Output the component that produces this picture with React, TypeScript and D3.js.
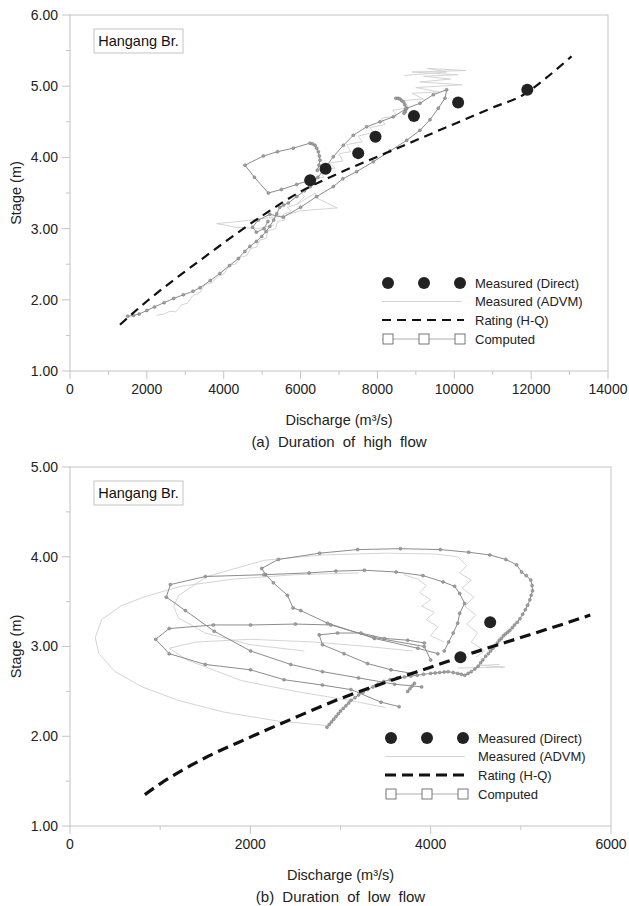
import * as d3 from "d3";

type Pt = [number, number];

// ---------- (a) high flow ----------
const highQTicks = [0, 2000, 4000, 6000, 8000, 10000, 12000, 14000];
const highStageTicks = [1, 2, 3, 4, 5, 6];

const directHigh: Pt[] = [
  [6250, 3.68], [6650, 3.84], [7500, 4.06], [7950, 4.29], [8950, 4.58], [10100, 4.77], [11900, 4.95],
];

const ratingHigh: Pt[] = [
  [1300, 1.65], [2000, 1.98], [3000, 2.4], [3500, 2.6], [4000, 2.8], [5000, 3.18], [6000, 3.52],
  [7000, 3.78], [8000, 4.01], [9000, 4.24], [10000, 4.47], [11000, 4.7], [11800, 4.88],
  [12400, 5.12], [13050, 5.42],
];

const computedHighA: Pt[] = [
  [1500, 1.77], [1650, 1.78], [1800, 1.8], [2000, 1.85], [2200, 1.9], [2450, 1.96], [2700, 2.02],
  [2950, 2.07], [3200, 2.12], [3383, 2.17], [3650, 2.27], [3900, 2.37], [4150, 2.48], [4380, 2.58],
  [4550, 2.68], [4680, 2.75], [4850, 2.82], [4990, 2.89], [5100, 2.96], [5200, 3.03], [5300, 3.12],
  [5380, 3.21], [5460, 3.3], [5560, 3.33], [5681, 3.36], [5900, 3.45], [6100, 3.53], [6245, 3.59],
  [6450, 3.72], [6636, 3.85], [6852, 4.01], [7113, 4.17], [7372, 4.31], [7720, 4.43], [8067, 4.5],
  [8413, 4.57], [8761, 4.69], [9107, 4.76], [9454, 4.88], [9802, 4.95], [9758, 4.83], [9584, 4.69],
  [9368, 4.53], [9107, 4.38], [8761, 4.24], [8327, 4.09], [7893, 3.94], [7460, 3.8], [7100, 3.7],
  [6852, 3.59], [6419, 3.45], [6000, 3.3], [5550, 3.16], [5200, 3.2], [4900, 3.12], [4750, 3.02],
  [4850, 2.95], [5050, 3.0], [5150, 3.1],
];

const computedHighB: Pt[] = [
  [6436, 3.82], [6480, 3.89], [6505, 3.96], [6490, 4.02], [6462, 4.08], [6420, 4.13], [6375, 4.17],
  [6310, 4.19], [6245, 4.2], [5811, 4.13], [5400, 4.08], [5031, 4.02], [4554, 3.89], [4800, 3.72],
  [5161, 3.5], [5500, 3.55], [5900, 3.62], [6245, 3.68],
];

const computedHighC: Pt[] = [
  [8480, 4.83], [8540, 4.83], [8587, 4.82], [8630, 4.8], [8674, 4.78], [8710, 4.74], [8743, 4.69],
  [8730, 4.66], [8720, 4.64], [8691, 4.62],
];

const advmHighA: Pt[] = [
  [2250, 1.78], [2450, 1.8], [2600, 1.84], [2750, 1.83], [2900, 1.93], [3050, 1.95], [3200, 2.06],
  [3383, 2.1], [3500, 2.21], [3700, 2.24], [3850, 2.33], [4000, 2.36], [4163, 2.49], [4300, 2.5],
  [4450, 2.6], [4600, 2.62], [4700, 2.72], [4850, 2.74], [4944, 2.84], [5100, 2.86], [5150, 2.97],
  [5350, 3.0], [5400, 3.1], [5595, 3.12], [5550, 3.2], [5750, 3.24], [5650, 3.3], [5900, 3.34],
];

const advmHighB: Pt[] = [
  [5900, 3.34], [6380, 3.5], [6420, 3.43], [6950, 3.29], [6000, 3.25], [5540, 3.18], [5000, 3.14],
  [4400, 3.1], [3817, 3.07], [4300, 3.02], [4900, 3.0], [5300, 3.05],
];

const advmHighC: Pt[] = [
  [5900, 3.34], [6100, 3.45], [6000, 3.52], [6300, 3.58], [6250, 3.7], [6600, 3.72], [6500, 3.82],
  [6900, 3.85], [6750, 3.92], [7100, 3.95], [7000, 4.05], [7300, 4.08], [7200, 4.18], [7600, 4.22],
  [7500, 4.3], [7900, 4.35], [7800, 4.42], [8200, 4.46], [8100, 4.55], [8500, 4.58], [8400, 4.66],
  [8800, 4.7], [8700, 4.8], [9200, 4.82], [8900, 4.9], [9600, 4.92], [9000, 4.98], [10200, 5.02],
  [9100, 5.06], [9900, 5.1], [9200, 5.14], [10100, 5.16], [8900, 5.2], [10300, 5.22], [9300, 5.25],
  [9800, 5.2], [8700, 5.15],
];

// ---------- (b) low flow ----------
const lowQTicks = [0, 2000, 4000, 6000];
const lowStageTicks = [1, 2, 3, 4, 5];

const directLow: Pt[] = [[4330, 2.88], [4660, 3.27]];

const ratingLow: Pt[] = [
  [830, 1.35], [1000, 1.47], [1500, 1.76], [2000, 1.99], [2500, 2.21], [3000, 2.42], [3500, 2.6],
  [4000, 2.77], [4500, 2.94], [5000, 3.1], [5500, 3.26], [5770, 3.35],
];

const computedLowA: Pt[] = [
  [2850, 2.1], [2875, 2.13], [2900, 2.16], [2925, 2.19], [2950, 2.22], [2975, 2.25], [3000, 2.28],
  [3030, 2.31], [3060, 2.34], [3090, 2.37], [3116, 2.4], [3160, 2.43], [3200, 2.46], [3250, 2.49],
  [3300, 2.52], [3360, 2.55], [3414, 2.58], [3480, 2.61], [3550, 2.63], [3630, 2.65], [3710, 2.66],
  [3780, 2.67], [3850, 2.68], [3920, 2.69], [4000, 2.7], [4050, 2.705], [4100, 2.71], [4150, 2.715],
  [4193, 2.72], [4250, 2.71], [4300, 2.7], [4340, 2.69], [4378, 2.68], [4415, 2.7], [4450, 2.72],
  [4490, 2.75], [4526, 2.78], [4555, 2.82], [4578, 2.85], [4610, 2.89], [4640, 2.92], [4665, 2.95],
  [4690, 2.98], [4715, 3.01], [4740, 3.04], [4762, 3.07], [4784, 3.09], [4807, 3.12], [4830, 3.14],
  [4855, 3.16], [4878, 3.18], [4905, 3.21], [4930, 3.24], [4960, 3.27], [4990, 3.31], [5020, 3.36],
  [5050, 3.41], [5075, 3.46], [5100, 3.52], [5115, 3.57], [5130, 3.62], [5125, 3.68], [5110, 3.74],
  [5060, 3.79], [5008, 3.83], [4953, 3.91], [4834, 3.97], [4656, 4.02], [4422, 4.05], [4107, 4.08],
  [3665, 4.09], [3191, 4.08], [2768, 4.04], [2311, 3.97], [2126, 3.87], [2170, 3.8], [2256, 3.71],
  [2411, 3.57], [2474, 3.43], [2560, 3.4], [2857, 3.26], [3377, 3.09], [3858, 2.98], [4080, 2.92],
];

const computedLowB: Pt[] = [
  [4150, 2.95], [4200, 3.05], [4250, 3.15], [4300, 3.26], [4322, 3.37], [4377, 3.48], [4322, 3.59],
  [4266, 3.67], [4137, 3.72], [3914, 3.79], [3617, 3.83], [3265, 3.85], [2949, 3.84], [2652, 3.82],
  [2151, 3.8], [1502, 3.78], [1113, 3.69], [1068, 3.55], [1280, 3.4], [1600, 3.17], [2003, 2.95],
  [2448, 2.8], [2800, 2.72], [3200, 2.65], [3600, 2.58], [3900, 2.55],
];

const computedLowC: Pt[] = [
  [4000, 2.85], [3928, 3.0], [3370, 3.1], [2893, 3.24], [2500, 3.25], [2003, 3.24], [1590, 3.24],
  [1100, 3.2], [950, 3.08], [1100, 2.92], [1500, 2.8], [2003, 2.74], [2374, 2.63], [2800, 2.57],
  [3116, 2.52], [3450, 2.38], [3650, 2.33],
];

const computedLowD: Pt[] = [
  [3930, 3.04], [3745, 3.07], [3486, 3.09], [3227, 3.15], [2967, 3.15], [2763, 3.13], [2800, 3.02],
  [3040, 2.92], [3300, 2.81], [3560, 2.74], [3800, 2.7],
];

const computedLowE: Pt[] = [
  [3745, 2.5], [3770, 2.53], [3795, 2.56], [3820, 2.59],
];

const advmLowA: Pt[] = [
  [2850, 2.12], [2300, 2.17], [1700, 2.27], [1200, 2.4], [800, 2.55], [500, 2.72], [320, 2.92],
  [280, 3.1], [352, 3.3], [560, 3.45], [816, 3.55], [1225, 3.67], [1800, 3.75], [2500, 3.8], [3200, 3.82],
];

const advmLowB: Pt[] = [
  [2600, 2.95], [2000, 3.02], [1500, 3.15], [1200, 3.32], [1150, 3.45], [1206, 3.57], [1521, 3.78],
  [2151, 3.96], [2800, 4.02], [3500, 4.04], [4050, 4.03], [4300, 4.0], [4400, 3.9], [4320, 3.82],
  [4450, 3.74], [4350, 3.65], [4480, 3.55], [4380, 3.45], [4500, 3.35], [4400, 3.25], [4520, 3.15],
  [4450, 3.05], [4600, 2.95], [4500, 2.88],
];

const advmLowC: Pt[] = [
  [3700, 3.8], [3860, 3.75], [3950, 3.68], [3880, 3.6], [4000, 3.52], [3900, 3.45], [4040, 3.38],
  [3950, 3.3], [4080, 3.22], [4000, 3.12], [4150, 3.05],
];

const advmLowD: Pt[] = [[4300, 2.76], [4822, 2.77], [4550, 2.79], [4760, 2.8]];

const advmLowE: Pt[] = [
  [3800, 2.95], [3300, 3.0], [2700, 3.05], [2000, 3.08], [1400, 3.05], [1100, 2.98], [1300, 2.85],
  [1900, 2.62], [2500, 2.5], [3100, 2.4], [3500, 2.32],
];

const legendLabels = ["Measured (Direct)", "Measured (ADVM)", "Rating (H-Q)", "Computed"];

const FONT = "'Liberation Sans', Arial, sans-serif";

type PanelProps = {
  top: number;
  bottom: number;
  left: number;
  right: number;
  qTicks: number[];
  qMinor: number;
  stageTicks: number[];
  direct: Pt[];
  rating: Pt[];
  ratingWidth: number;
  computed: Pt[][];
  advm: Pt[][];
  caption: string;
};

function Panel(p: PanelProps) {
  const x = d3.scaleLinear().domain([0, p.qTicks[p.qTicks.length - 1]]).range([p.left, p.right]);
  const y = d3
    .scaleLinear()
    .domain([p.stageTicks[0], p.stageTicks[p.stageTicks.length - 1]])
    .range([p.bottom, p.top]);
  const line = d3
    .line<Pt>()
    .x((d) => x(d[0]))
    .y((d) => y(d[1]));
  const smooth = d3
    .line<Pt>()
    .x((d) => x(d[0]))
    .y((d) => y(d[1]))
    .curve(d3.curveMonotoneX);

  const qMinorTicks = d3.range(p.qMinor, x.domain()[1], p.qMinor * 2);
  const sMinorTicks = d3.range(y.domain()[0] + 0.5, y.domain()[1], 1);

  const lx = p.right - 220;
  const rows = [p.bottom - 88, p.bottom - 69.5, p.bottom - 51, p.bottom - 32];
  const midX = (p.left + p.right) / 2;
  const grid = "#c4c4c4";
  const dash = p.ratingWidth > 2.5 ? "11 6" : "9 6";

  return (
    <g fontFamily={FONT}>
      <rect x={p.left} y={p.top} width={p.right - p.left} height={p.bottom - p.top} fill="none" stroke={grid} />
      {p.stageTicks.map((t) => (
        <g key={"ys" + t}>
          <line x1={p.left - 8} x2={p.left} y1={y(t)} y2={y(t)} stroke={grid} />
          <text x={p.left - 12} y={y(t)} dy="0.35em" textAnchor="end" fontSize={14} fill="#222">
            {t.toFixed(2)}
          </text>
        </g>
      ))}
      {sMinorTicks.map((t) => (
        <line key={"ym" + t} x1={p.left - 4} x2={p.left} y1={y(t)} y2={y(t)} stroke={grid} />
      ))}
      {p.qTicks.map((t) => (
        <g key={"xs" + t}>
          <line x1={x(t)} x2={x(t)} y1={p.bottom} y2={p.bottom + 8} stroke={grid} />
          <text x={x(t)} y={p.bottom + 18} dy="0.35em" textAnchor="middle" fontSize={14} fill="#222">
            {t}
          </text>
        </g>
      ))}
      {qMinorTicks.map((t) => (
        <line key={"xm" + t} x1={x(t)} x2={x(t)} y1={p.bottom} y2={p.bottom + 4} stroke={grid} />
      ))}
      <text x={midX} y={p.bottom + 49} dy="0.35em" textAnchor="middle" fontSize={14.5} fill="#222">
        Discharge (m³/s)
      </text>
      <text
        transform={`translate(16,${(p.top + p.bottom) / 2}) rotate(-90)`}
        dy="0.35em"
        textAnchor="middle"
        fontSize={14.5}
        fill="#222"
      >
        Stage (m)
      </text>
      <text x={midX} y={p.bottom + 71} dy="0.35em" textAnchor="middle" fontSize={15} wordSpacing={4} fill="#222">
        {p.caption}
      </text>

      <rect x={p.left + 24} y={p.top + 14} width={89} height={24} fill="white" stroke={grid} />
      <text x={p.left + 68.5} y={p.top + 26} dy="0.35em" textAnchor="middle" fontSize={14.5} fill="#111">
        Hangang Br.
      </text>

      {p.advm.map((s, i) => (
        <path key={"a" + i} d={line(s) ?? ""} fill="none" stroke="#cfcfcf" strokeWidth={0.9} />
      ))}
      {p.computed.map((s, i) => (
        <g key={"c" + i}>
          <path d={line(s) ?? ""} fill="none" stroke="#8c8c8c" strokeWidth={1} />
          {s.map((d, j) => (
            <circle key={j} cx={x(d[0])} cy={y(d[1])} r={1.5} fill="#a0a0a0" stroke="#777" strokeWidth={0.5} />
          ))}
        </g>
      ))}
      <path d={smooth(p.rating) ?? ""} fill="none" stroke="#111" strokeWidth={p.ratingWidth} strokeDasharray={dash} />
      {p.direct.map((d, i) => (
        <circle key={"d" + i} cx={x(d[0])} cy={y(d[1])} r={6} fill="#222" />
      ))}

      {/* legend */}
      {[0, 36, 72].map((o) => (
        <circle key={"ld" + o} cx={lx + o} cy={rows[0]} r={6} fill="#222" />
      ))}
      <line x1={lx - 6} x2={lx + 74} y1={rows[1]} y2={rows[1]} stroke="#d4d4d4" strokeWidth={1} />
      <line x1={lx - 6} x2={lx + 76} y1={rows[2]} y2={rows[2]} stroke="#111" strokeWidth={p.ratingWidth} strokeDasharray={dash} />
      <line x1={lx - 6} x2={lx + 76} y1={rows[3]} y2={rows[3]} stroke="#999" strokeWidth={0.8} />
      {[0, 36, 72].map((o) => (
        <rect key={"ls" + o} x={lx + o - 5} y={rows[3] - 5} width={10} height={10} fill="white" stroke="#555" strokeWidth={0.8} />
      ))}
      {legendLabels.map((t, i) => (
        <text key={t} x={lx + 87} y={rows[i]} dy="0.35em" fontSize={13} fill="#222">
          {t}
        </text>
      ))}
    </g>
  );
}

export default function App() {
  return (
    <div style={{ position: "absolute", left: 0, top: 0 }}>
      <svg width={629} height={906} style={{ display: "block", background: "white" }}>
        <Panel
          top={15}
          bottom={371}
          left={70}
          right={608}
          qTicks={highQTicks}
          qMinor={1000}
          stageTicks={highStageTicks}
          direct={directHigh}
          rating={ratingHigh}
          ratingWidth={2.2}
          computed={[computedHighA, computedHighB, computedHighC]}
          advm={[advmHighA, advmHighB, advmHighC]}
          caption="(a) Duration of high flow"
        />
        <Panel
          top={467}
          bottom={826}
          left={70}
          right={611}
          qTicks={lowQTicks}
          qMinor={1000}
          stageTicks={lowStageTicks}
          direct={directLow}
          rating={ratingLow}
          ratingWidth={3.2}
          computed={[computedLowA, computedLowB, computedLowC, computedLowD, computedLowE]}
          advm={[advmLowA, advmLowB, advmLowC, advmLowD, advmLowE]}
          caption="(b) Duration of low flow"
        />
      </svg>
    </div>
  );
}
